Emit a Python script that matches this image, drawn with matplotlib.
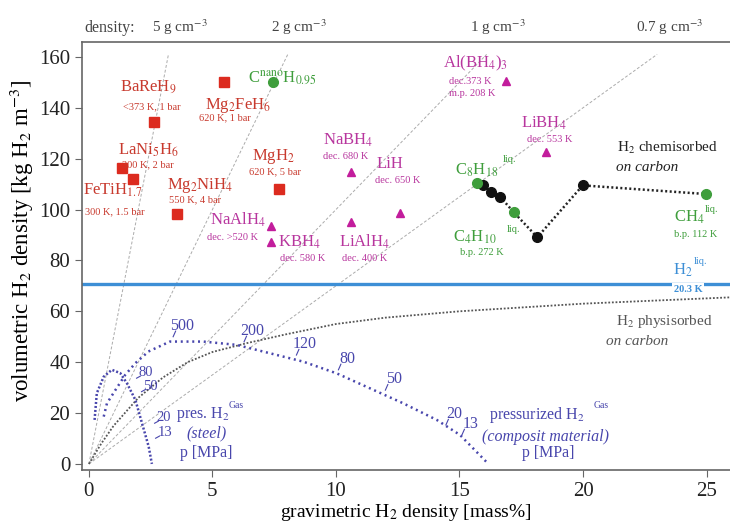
import matplotlib
matplotlib.use("Agg")
import matplotlib.pyplot as plt

plt.rcParams["font.family"] = ["Liberation Serif", "DejaVu Serif"]
plt.rcParams["mathtext.fontset"] = "stix"

OUTPUT_FILE = "out.png"

# metal hydrides (red squares)
hyd_names = ["BaReH9", "Mg2FeH6", "LaNi5H6", "FeTiH1.7", "MgH2", "Mg2NiH4"]
hyd_x = [2.64, 5.47, 1.35, 1.77, 7.68, 3.58]
hyd_y = [134.3, 150.3, 116.2, 112.0, 108.2, 98.4]

# complex hydrides (magenta triangles)
cplx_names = ["NaBH4", "Al(BH4)3", "LiBH4", "LiH", "NaAlH4", "KBH4", "LiAlH4"]
cplx_x = [10.6, 16.9, 18.5, 12.59, 7.37, 7.39, 10.59]
cplx_y = [114.6, 150.5, 122.5, 98.7, 93.7, 87.1, 95.3]

# hydrocarbons / carbon (green circles)
hc_names = ["C(nano)H0.95", "C8H18", "C4H10", "CH4"]
hc_x = [7.46, 15.72, 17.2, 24.98]
hc_y = [150.3, 110.6, 98.9, 106.1]

# H2 chemisorbed on carbon (black circles)
chem_x = [15.96, 16.26, 16.64, 18.15, 19.99]
chem_y = [109.7, 106.8, 105.1, 89.1, 109.5]
# dotted path through the chemisorbed series
path_x = [15.72, 15.96, 16.26, 16.64, 17.2, 18.15, 19.99, 24.98]
path_y = [110.6, 109.7, 106.8, 105.1, 98.9, 89.1, 109.5, 106.1]

# liquid hydrogen
h2_liq = 70.8

# density lines [g cm^-3]
densities = [5, 2, 1, 0.7]
density_labels = ["5 g cm$^{-3}$", "2 g cm$^{-3}$", "1 g cm$^{-3}$", "0.7 g cm$^{-3}$"]

# H2 physisorbed on carbon
phys_x = [0, 0.5, 1, 2, 3, 4, 5, 6.4, 8, 10, 12, 15, 20, 26]
phys_y = [0, 8, 15, 26, 34, 40, 44, 47.5, 51, 55, 57.5, 60, 63, 65.5]

# pressurized H2 in steel tank
steel_x = [0.23, 0.32, 0.6, 0.93, 1.27, 1.54, 1.88, 2.15, 2.42, 2.55]
steel_y = [17.3, 27.8, 34.3, 37.0, 35.7, 31.7, 25.2, 16.0, 6.8, 0.0]

# pressurized H2 in composite tank
comp_x = [0.6, 0.73, 1.07, 1.47, 1.88, 2.41, 3.28, 4.63, 5.98, 7.33, 8.68,
          10.03, 11.38, 12.73, 14.08, 15.02, 16.17]
comp_y = [18.6, 23.8, 29.0, 35.0, 39.6, 44.2, 48.1, 48.1, 46.8, 43.5, 40.2,
          35.6, 29.7, 23.8, 17.3, 11.4, 0.0]

# pressure marks [MPa]
comp_p = ["500", "200", "120", "80", "50", "20", "13"]
comp_px = [3.41, 6.28, 8.4, 10.1, 12.0, 14.45, 15.1]
comp_py = [50.0, 48.0, 42.8, 37.0, 29.0, 15.3, 11.4]
steel_p = ["80", "50", "20", "13"]
steel_px = [1.88, 2.08, 2.61, 2.65]
steel_py = [33.7, 28.4, 16.0, 10.1]

RED, RED_T = "#dc2b1f", "#c83a2e"
MAG, MAG_T = "#c21d9c", "#b8369e"
GRN = "#3f9e3c"
NAVY = "#4846ac"
LBLUE = "#3d8fd6"
GRAY = "#555555"

fig = plt.figure(figsize=(7.3, 5.24), dpi=100)
ax = fig.add_axes([0.1123, 0.103, 0.8877, 0.817])
ax.set_xlim(-0.28, 25.95)
ax.set_ylim(-2.4, 165.9)

# density lines
for d in densities:
    s = 10 * d
    ax.plot([0, 161 / s], [0, 161], color="#ababab", lw=0.7, ls=(0, (3, 2)), zorder=1)
for lab, d, xl in zip(density_labels, densities, [3.7, 8.5, 16.55, 23.5]):
    ax.text(xl, 171.5, lab, ha="center", va="center", fontsize=11, color="#444")
ax.text(0.85, 171.5, "density:", ha="center", va="center", fontsize=11.5, color="#444")

# physisorbed and pressure curves
ax.plot(phys_x, phys_y, color=GRAY, lw=1.3, ls=(0, (1, 1)), zorder=2)
ax.plot(steel_x, steel_y, color=NAVY, lw=1.8, ls=(0, (0.8, 0.8)), zorder=3)
ax.plot(comp_x, comp_y, color=NAVY, lw=1.8, ls=(0, (0.8, 1.5)), zorder=3)

# liquid H2
ax.axhline(h2_liq, color=LBLUE, lw=2.4, zorder=2)

# chemisorbed path
ax.plot(path_x, path_y, color="#222", lw=1.8, ls=(0, (0.8, 1.0)), zorder=3)
ax.plot(chem_x, chem_y, "o", color="#111", ms=7, zorder=4)

ax.plot(hyd_x, hyd_y, "s", color=RED, ms=7, zorder=4)
ax.plot(cplx_x, cplx_y, "^", color=MAG, ms=6, zorder=4)
ax.plot(hc_x, hc_y, "o", color=GRN, ms=7, zorder=5)

# compound labels
big = 12
small = 7.5
labels = [
    (r"BaReH$_9$", 2.39, 147.8, RED_T, big),
    (r"<373 K, 1 bar", 2.55, 140.3, RED_T, small),
    (r"Mg$_2$FeH$_6$", 6.03, 141.0, RED_T, big),
    (r"620 K, 1 bar", 5.5, 136.0, RED_T, small),
    (r"LaNi$_5$H$_6$", 2.39, 123.4, RED_T, big),
    (r"300 K, 2 bar", 2.39, 117.5, RED_T, small),
    (r"FeTiH$_{1.7}$", 0.97, 107.7, RED_T, big),
    (r"300 K, 1.5 bar", 1.05, 99.0, RED_T, small),
    (r"Mg$_2$NiH$_4$", 4.5, 109.3, RED_T, big),
    (r"550 K, 4 bar", 4.3, 103.8, RED_T, small),
    (r"MgH$_2$", 7.45, 121.0, RED_T, big),
    (r"620 K, 5 bar", 7.55, 114.8, RED_T, small),
    (r"C$^{\rm nano}$H$_{0.95}$", 7.85, 151.7, GRN, big),
    (r"NaBH$_4$", 10.5, 127.4, MAG_T, big),
    (r"dec. 680 K", 10.4, 120.7, MAG_T, small),
    (r"Al(BH$_4$)$_3$", 15.67, 157.4, MAG_T, big),
    (r"dec.373 K", 15.45, 150.5, MAG_T, small),
    (r"m.p. 208 K", 15.5, 145.6, MAG_T, small),
    (r"LiBH$_4$", 18.4, 134.0, MAG_T, big),
    (r"dec. 553 K", 18.66, 127.4, MAG_T, small),
    (r"LiH", 12.2, 117.9, MAG_T, big),
    (r"dec. 650 K", 12.5, 111.6, MAG_T, small),
    (r"NaAlH$_4$", 6.03, 95.9, MAG_T, big),
    (r"dec. >520 K", 5.8, 89.2, MAG_T, small),
    (r"KBH$_4$", 8.54, 87.3, MAG_T, big),
    (r"dec. 580 K", 8.66, 80.6, MAG_T, small),
    (r"LiAlH$_4$", 11.17, 87.3, MAG_T, big),
    (r"dec. 400 K", 11.17, 80.6, MAG_T, small),
    (r"C$_8$H$_{18}$", 15.68, 115.6, GRN, big),
    (r"liq.", 17.05, 119.6, GRN, small),
    (r"C$_4$H$_{10}$", 15.6, 89.2, GRN, big),
    (r"liq.", 17.2, 92.0, GRN, small),
    (r"b.p. 272 K", 15.9, 83.3, GRN, small),
    (r"CH$_4$", 24.3, 97.1, GRN, big),
    (r"liq.", 25.2, 100.0, GRN, small),
    (r"b.p. 112 K", 24.55, 90.0, GRN, small),
]
for t, x, y, c, fs in labels:
    ax.text(x, y, t, ha="center", va="center", color=c, fontsize=fs, zorder=6)

ax.text(24.05, 76.3, r"H$_2$", ha="center", va="center", color=LBLUE, fontsize=big)
ax.text(24.75, 79.5, "liq.", ha="center", va="center", color=LBLUE, fontsize=small)
ax.text(24.25, 68.4, "20.3 K", ha="center", va="center", color=LBLUE, fontsize=small,
        fontweight="bold", bbox=dict(fc="white", ec="none", pad=1.5), zorder=6)

ax.text(23.4, 124.2, r"H$_2$ chemisorbed", ha="center", va="center", color="#222", fontsize=11)
ax.text(22.6, 116.4, "on carbon", ha="center", va="center", color="#222", fontsize=11,
        style="italic")
ax.text(23.3, 55.8, r"H$_2$ physisorbed", ha="center", va="center", color="#555", fontsize=11)
ax.text(22.2, 48.0, "on carbon", ha="center", va="center", color="#555", fontsize=11,
        style="italic")

# pressure tank captions
ax.text(4.6, 19.3, r"pres. H$_2$", ha="center", va="center", color=NAVY, fontsize=11.5)
ax.text(5.95, 22.8, "Gas", ha="center", va="center", color=NAVY, fontsize=7)
ax.text(4.76, 12.0, "(steel)", ha="center", va="center", color=NAVY, fontsize=11.5,
        style="italic")
ax.text(4.76, 4.2, "p [MPa]", ha="center", va="center", color=NAVY, fontsize=11.5)
ax.text(18.15, 19.3, r"pressurized H$_2$", ha="center", va="center", color=NAVY,
        fontsize=11.5)
ax.text(20.75, 22.8, "Gas", ha="center", va="center", color=NAVY, fontsize=7)
ax.text(18.5, 10.7, "(composit material)", ha="center", va="center", color=NAVY,
        fontsize=11.5, style="italic")
ax.text(18.6, 4.2, "p [MPa]", ha="center", va="center", color=NAVY, fontsize=11.5)

# pressure marks
for p, x, y in zip(comp_p, comp_px, comp_py):
    ax.plot([x, x + 0.1], [y, y + 2.2], color=NAVY, lw=0.8)
    ax.text(x + 0.35, y + 4.4, p, ha="center", va="center", color=NAVY, fontsize=11.5)
for p, x, y in zip(steel_p, steel_px, steel_py):
    ax.plot([x + 0.05, x + 0.2], [y, y + 0.8], color=NAVY, lw=0.8)
    ax.text(x + 0.42, y + 2.1, p, ha="center", va="center", color=NAVY, fontsize=10.5)

# axes styling
ax.spines["right"].set_visible(False)
for s in ["left", "bottom", "top"]:
    ax.spines[s].set_color("#666")
    ax.spines[s].set_linewidth(1.2)
ax.set_xticks([0, 5, 10, 15, 20, 25])
ax.set_yticks(range(0, 161, 20))
ax.tick_params(direction="out", length=5, color="#666", labelsize=15, labelcolor="#222")
ax.set_xlabel(r"gravimetric H$_2$ density [mass%]", fontsize=14, labelpad=1)
ax.set_ylabel(r"volumetric H$_2$ density [kg H$_2$ m$^{-3}$]", fontsize=16.5, labelpad=3)
ax.yaxis.set_label_coords(-0.071, 0.535)

plt.savefig(OUTPUT_FILE, dpi=100)
print(f"Saved graph to {OUTPUT_FILE}")
